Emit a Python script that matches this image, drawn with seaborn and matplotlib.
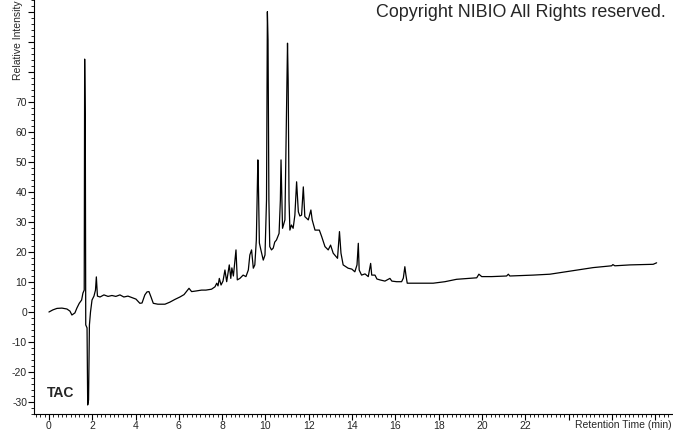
import matplotlib
matplotlib.use("Agg")
import matplotlib.pyplot as plt
from matplotlib.ticker import MultipleLocator, FixedLocator
import seaborn as sns
import pandas as pd

# retention time (min) and relative intensity
retention_time = [
    0.00, 0.18, 0.37, 0.60, 0.83, 0.97, 1.06, 1.20, 1.29, 1.40, 1.51, 1.57, 1.63,
    1.65, 1.68, 1.70, 1.76, 1.79, 1.83, 1.87, 1.92, 1.99, 2.08, 2.15, 2.19, 2.24,
    2.36, 2.54, 2.73, 2.91, 3.09, 3.28, 3.46, 3.65, 3.83, 4.02, 4.20, 4.30, 4.43,
    4.53, 4.62, 4.71, 4.82, 5.03, 5.36, 5.59, 5.82, 6.05, 6.24, 6.40, 6.47, 6.59,
    6.79, 7.05, 7.25, 7.51, 7.67, 7.75, 7.81, 7.87, 7.95, 8.04, 8.13, 8.21, 8.27,
    8.33, 8.40, 8.45, 8.52, 8.64, 8.70, 8.82, 8.97, 9.10, 9.21, 9.28, 9.36, 9.44,
    9.51, 9.58, 9.65, 9.68, 9.72, 9.79, 9.90, 9.98, 10.05, 10.09, 10.12, 10.16,
    10.20, 10.28, 10.36, 10.43, 10.51, 10.63, 10.69, 10.72, 10.76, 10.79, 10.90,
    10.97, 11.02, 11.05, 11.09, 11.13, 11.20, 11.28, 11.36, 11.44, 11.52, 11.59,
    11.67, 11.75, 11.82, 11.98, 12.10, 12.16, 12.29, 12.49, 12.60, 12.75, 12.90,
    13.01, 13.13, 13.33, 13.42, 13.49, 13.59, 13.82, 13.99, 14.13, 14.23, 14.29,
    14.33, 14.44, 14.60, 14.75, 14.86, 14.91, 15.06, 15.15, 15.29, 15.52, 15.75,
    15.84, 16.06, 16.29, 16.37, 16.44, 16.49, 16.55, 16.98, 17.75, 18.29, 18.83,
    19.76, 19.86, 19.99, 20.45, 21.14, 21.22, 21.29, 22.37, 23.14, 24.22, 25.14,
    25.99, 26.05, 26.14, 26.84, 27.91, 28.07,
]
intensity = [
    0.0, 0.7, 1.2, 1.3, 1.0, 0.3, -1.0, -0.3, 1.3, 2.9, 4.0, 6.3, 7.3,
    84.3, 62.0, -4.3, -5.3, -31.0, -29.3, -4.3, 0.0, 4.0, 5.3, 7.3, 11.7, 5.3,
    5.0, 5.7, 5.2, 5.5, 5.2, 5.7, 5.0, 5.3, 4.8, 4.3, 2.9, 3.0, 5.7,
    6.7, 6.8, 5.1, 2.9, 2.6, 2.6, 3.3, 4.2, 5.0, 5.8, 7.3, 7.9, 6.8,
    7.0, 7.3, 7.3, 7.6, 8.4, 9.6, 8.7, 11.2, 9.0, 10.3, 14.0, 10.1, 13.0,
    15.7, 11.2, 14.7, 12.0, 20.7, 10.7, 11.2, 12.3, 11.8, 14.0, 19.0, 20.7, 14.6,
    15.7, 24.0, 50.7, 40.7, 23.0, 20.7, 17.3, 19.0, 37.3, 100.1, 90.7, 37.3,
    21.8, 20.7, 21.3, 23.3, 24.0, 26.2, 37.3, 50.7, 37.3, 27.9, 30.7,
    64.0, 89.6, 77.3, 37.3, 27.3, 29.0, 27.9, 32.3, 43.4, 33.4, 32.0,
    32.3, 41.7, 31.8, 30.7, 34.0, 30.7, 27.3, 27.3, 25.1, 21.8, 20.7,
    22.3, 19.6, 17.9, 26.8, 19.6, 15.7, 14.6, 14.3, 13.4, 15.7, 22.9,
    14.0, 12.3, 12.7, 11.8, 16.2, 12.3, 12.3, 11.0, 10.7, 10.3, 11.2,
    10.3, 10.1, 10.1, 11.3, 15.1, 12.3, 9.6, 9.6, 9.6, 10.1, 10.9,
    11.4, 12.6, 11.8, 11.8, 12.0, 12.6, 12.0, 12.3, 12.6, 13.8, 14.8,
    15.4, 15.8, 15.4, 15.7, 15.9, 16.4,
]

x_tick_values = list(range(0, 29, 2))
x_tick_labels = [str(v) if v <= 22 else "" for v in x_tick_values]
y_tick_values = list(range(-30, 101, 10))
y_tick_labels = [str(v) if v <= 70 else "" for v in y_tick_values]

df = pd.DataFrame({"time": retention_time, "intensity": intensity})

sns.set_style("white")
plt.rcParams["font.family"] = ["Liberation Sans", "DejaVu Sans"]

fig = plt.figure(figsize=(6.73, 4.33), dpi=100)
ax = fig.add_axes([34 / 673, 19 / 433, 638 / 673, 414 / 433])

sns.lineplot(data=df, x="time", y="intensity", ax=ax, color="black",
             linewidth=0.9, sort=False, estimator=None)

ax.set_xlim(-0.69, 28.78)
ax.set_ylim(-34.0, 104)
ax.set_xlabel("")
ax.set_ylabel("")

ax.xaxis.set_major_locator(FixedLocator(x_tick_values))
ax.set_xticklabels(x_tick_labels)
ax.xaxis.set_minor_locator(MultipleLocator(0.2))
ax.yaxis.set_major_locator(FixedLocator(y_tick_values))
ax.set_yticklabels(y_tick_labels)
ax.yaxis.set_minor_locator(MultipleLocator(2))

ax.tick_params(axis="both", which="major", direction="out", length=4,
               width=0.8, color="black", labelsize=7.5, pad=1,
               bottom=True, left=True)
ax.tick_params(axis="both", which="minor", direction="out", length=2.5,
               width=0.6, color="black", bottom=True, left=True)

for side in ["top", "right"]:
    ax.spines[side].set_visible(False)
for side in ["left", "bottom"]:
    ax.spines[side].set_color("black")
    ax.spines[side].set_linewidth(0.8)

fig.text(18 / 673, 1.0, "Relative Intensity", rotation=90, ha="center",
         va="top", fontsize=7.5)
fig.text(672 / 673, 3 / 433, "Retention Time (min)", ha="right",
         va="bottom", fontsize=7.5)
fig.text(666 / 673, 1 - 4 / 433, "Copyright NIBIO All Rights reserved.",
         ha="right", va="top", fontsize=12.9)
fig.text(47 / 673, 1 - 397 / 433, "TAC", ha="left", va="baseline",
         fontsize=10, fontweight="bold")

fig.savefig("out.png", dpi=100)
plt.close()
